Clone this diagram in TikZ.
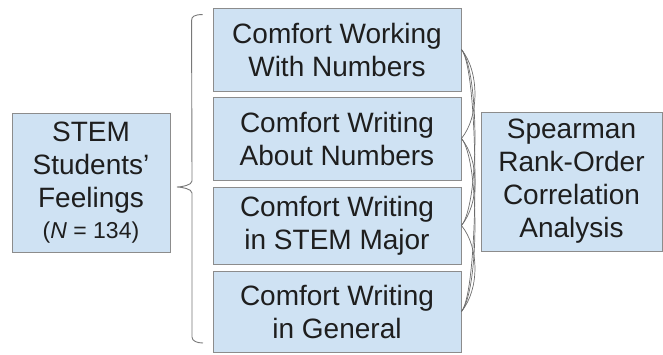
\documentclass[tikz,border=0pt]{standalone}
\usepackage{fontspec}
\setmainfont{Liberation Sans}
\definecolor{boxfill}{RGB}{207,226,243}
\definecolor{boxline}{RGB}{140,140,140}
\definecolor{txt}{RGB}{30,30,30}
\definecolor{bracec}{RGB}{120,120,120}
\begin{document}
\begin{tikzpicture}[x=1pt,y=-1pt,
  box/.style={draw=boxline, fill=boxfill, line width=0.9pt, align=center, inner sep=0pt,
    text=txt, font=\fontsize{28}{33}\selectfont},
  brace/.style={draw=bracec, line width=0.9pt},
  link/.style={draw=bracec!90!black, line width=0.7pt}]
\useasboundingbox (0,0) rectangle (663,354);
\node[box, minimum width=158pt, minimum height=139pt] (L) at (91,183)
  {STEM\\Students'\\Feelings\\[-2pt]{\fontsize{23}{27}\selectfont(\textit{N} = 134)}};
\node[box, minimum width=248pt, minimum height=83pt] (b1) at (337,49.5) {Comfort Working\\With Numbers};
\node[box, minimum width=248pt, minimum height=83pt] (b2) at (337,138.5) {Comfort Writing\\About Numbers};
\node[box, minimum width=248pt, minimum height=77pt] (b3) at (337,225.5) {Comfort Writing\\in STEM Major};
\node[box, minimum width=248pt, minimum height=81pt] (b4) at (337,311.5) {Comfort Writing\\in General};
\node[box, minimum width=181pt, minimum height=139pt] (R) at (571.5,181.5)
  {Spearman\\Rank-Order\\Correlation\\Analysis};
% left brace
\draw[brace] (b1.north west) ++(-10,7)
  .. controls +(-8,0) and +(0,-4) .. ++(-11,6)
  -- (192,181) .. controls (192,185) and (182,187) .. (177,187)
  .. controls (182,187) and (192,189) .. (192,193)
  -- (192,337) .. controls (192,341) and (197,343) .. (203,343);
% right connecting arcs
\foreach \a/\b in {b1/b2,b1/b3,b1/b4,b2/b3,b2/b4,b3/b4}{
  \draw[link] (\a.east) .. controls +(18,22) and +(18,-22) .. (\b.east);
}
\end{tikzpicture}
\end{document}
